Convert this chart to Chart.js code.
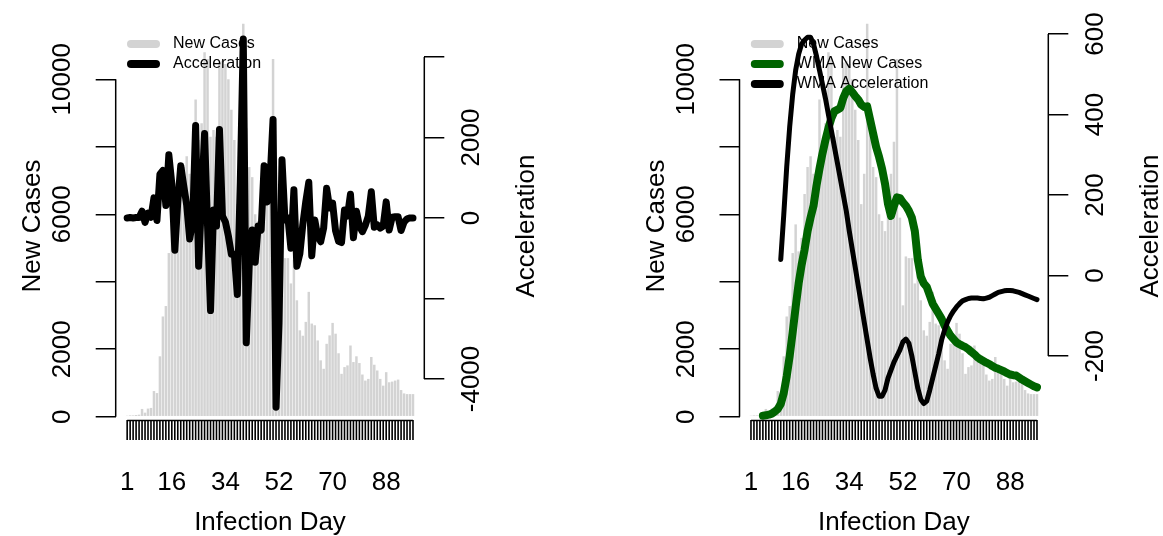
<!DOCTYPE html>
<html>
<head>
<meta charset="utf-8">
<script src="https://cdn.jsdelivr.net/npm/chart.js@4/dist/chart.umd.min.js"></script>
<style>
html,body{margin:0;padding:0;background:#fff;overflow:hidden}
#wrap{position:relative;width:1163px;height:536px;background:#fff}
canvas{position:absolute;top:0}
</style>
</head>
<body>
<div id="wrap">
<canvas id="c1" width="582" height="536" style="left:0px"></canvas>
<canvas id="c2" width="581" height="536" style="left:582px"></canvas>
</div>
<script>
// ---------- data ----------
const days = [1,2,3,4,5,6,7,8,9,10,11,12,13,14,15,16,17,18,19,20,21,22,23,24,25,26,27,28,29,30,
  31,32,33,34,35,36,37,38,39,40,41,42,43,44,45,46,47,48,49,50,51,52,53,54,55,56,57,58,59,60,
  61,62,63,64,65,66,67,68,69,70,71,72,73,74,75,76,77,78,79,80,81,82,83,84,85,86,87,88,89,90,
  91,92,93,94,95,96,97];

const newCases = [30,40,40,50,60,230,120,240,260,760,
  700,1790,2970,3280,4850,5700,4900,5300,6600,7400,
  7720,7200,7100,9400,8200,8700,10800,10600,8300,8500,
  8300,10500,10550,10450,10000,9100,8200,6300,7200,11650,
  8550,7400,7100,6000,5800,5500,6800,7200,8150,10600,
  5900,3300,4750,4700,4700,3950,4650,3450,2560,2400,
  2810,3700,2760,2710,2260,1670,1420,2160,2410,2780,
  2460,1880,1270,1470,1520,2110,1620,1790,1590,1250,
  1070,1120,1770,1540,1370,1120,920,1320,1020,1040,
  1070,1100,790,690,670,670,670];

const acceleration = [0,10,0,10,10,170,-110,120,20,500,
  -60,1090,1180,310,1570,850,-800,400,1300,800,
  320,-520,-100,2300,-1200,500,2100,-200,-2300,200,
  -200,2200,50,-100,-450,-900,-900,-1900,900,4450,
  -3100,-1150,-300,-1100,-200,-300,1300,400,950,2450,
  -4700,-2600,1450,-50,0,-750,700,-1200,-890,-160,
  410,890,-940,-50,-450,-590,-250,740,250,370,
  -320,-580,-610,200,50,590,-490,170,-200,-340,
  -180,50,650,-230,-170,-250,-200,400,-300,20,
  30,30,-310,-100,-20,0,0];

const wmaNewCases = [null,null,null,null,30,40,60,90,150,230,
  380,700,1200,1800,2500,3250,3950,4500,4950,5500,
  5900,6250,6850,7350,7800,8200,8550,8850,9050,9100,
  9150,9450,9650,9720,9620,9500,9400,9250,9180,9200,
  8800,8400,8000,7700,7350,6900,6300,5950,6250,6500,
  6480,6350,6250,6100,5900,5500,4650,4150,3950,3850,
  3600,3350,3200,3050,2900,2700,2550,2400,2300,2200,
  2150,2100,2060,2000,1920,1850,1760,1700,1650,1600,
  1560,1500,1450,1420,1380,1340,1290,1250,1230,1220,
  1160,1100,1050,1000,950,900,870];

const wmaAcceleration = [null,null,null,null,null,null,null,null,null,null,
  40,150,270,370,450,510,550,575,585,592,
  592,575,545,510,475,440,400,360,320,280,
  240,200,160,110,65,20,-25,-70,-115,-160,
  -205,-245,-280,-300,-300,-285,-255,-235,-215,-200,
  -185,-165,-158,-168,-200,-240,-280,-308,-318,-312,
  -285,-255,-225,-195,-160,-135,-115,-100,-88,-78,
  -70,-63,-60,-57,-56,-56,-56,-57,-58,-56,
  -54,-50,-46,-42,-40,-38,-37,-37,-38,-40,
  -42,-45,-48,-51,-54,-57,-60];

const xTickLabels = [1,16,34,52,70,88];
const caseTicks = [0,2000,4000,6000,8000,10000];
const caseTickLabels = [0,2000,6000,10000];
const accTicks = [-4000,-2000,0,2000,4000];
const accTickLabels = [-4000,0,2000];
const wmaAccTicks = [-200,0,200,400,600];
const wmaAccTickLabels = [-200,0,200,400,600];

// ---------- styling ----------
const FONT = '"Liberation Sans", Arial, Helvetica, sans-serif';
const AXIS_LW = 1.5;
const GRAY = '#D3D3D3';
const GREEN = '#006400';

function tickGrid(){
  return {display:true, drawOnChartArea:false, drawTicks:true, tickLength:20,
          color:'#000', lineWidth:AXIS_LW, offset:false};
}

function makeRPlugin(cfg){
  return {
    id:'rstyle',
    afterDatasetDraw(chart, args){
      if (args.index !== 0) return;          // legend drawn right after the bars
      const ctx = chart.ctx, ca = chart.chartArea;
      ctx.save();
      cfg.legend.forEach((it,i)=>{
        const y = 44 + 20*i;
        ctx.strokeStyle = it.color; ctx.lineWidth = 8; ctx.lineCap = 'round';
        ctx.beginPath(); ctx.moveTo(ca.left+15.3, y); ctx.lineTo(ca.left+40.3, y); ctx.stroke();
        ctx.fillStyle = '#000'; ctx.font = '16px ' + FONT;
        ctx.textAlign = 'left'; ctx.textBaseline = 'middle';
        ctx.fillText(it.label, ca.left+57.3, y);
      });
      ctx.restore();
    },
    afterDraw(chart){
      const ctx = chart.ctx, ca = chart.chartArea;
      const xs = chart.scales.x, ys = chart.scales.y, y2 = chart.scales.y2;
      ctx.save();
      ctx.strokeStyle = '#000'; ctx.lineCap = 'butt';
      // x tick marks, one per day, from the x scale
      ctx.lineWidth = 1.6;
      ctx.beginPath();
      xs.ticks.forEach(t => {
        const px = xs.getPixelForValue(t.value);
        ctx.moveTo(px, ca.bottom); ctx.lineTo(px, ca.bottom + 20);
      });
      ctx.stroke();
      // axis lines spanning first..last tick (R style)
      ctx.lineWidth = AXIS_LW;
      ctx.beginPath();
      ctx.moveTo(xs.getPixelForValue(days[0]), ca.bottom + 0.5);
      ctx.lineTo(xs.getPixelForValue(days[days.length-1]), ca.bottom + 0.5);
      ctx.moveTo(ca.left, ys.getPixelForValue(caseTicks[0]));
      ctx.lineTo(ca.left, ys.getPixelForValue(caseTicks[caseTicks.length-1]));
      ctx.moveTo(ca.right, y2.getPixelForValue(cfg.y2Ticks[0]));
      ctx.lineTo(ca.right, y2.getPixelForValue(cfg.y2Ticks[cfg.y2Ticks.length-1]));
      ctx.stroke();
      // tick labels
      ctx.fillStyle = '#000'; ctx.font = '26px ' + FONT;
      ctx.textAlign = 'center'; ctx.textBaseline = 'alphabetic';
      xTickLabels.forEach(v => ctx.fillText(String(v), xs.getPixelForValue(v), 490));
      const rot = (x, y, t) => { ctx.save(); ctx.translate(x, y); ctx.rotate(-Math.PI/2); ctx.fillText(t, 0, 0); ctx.restore(); };
      caseTickLabels.forEach(v => rot(ca.left - 45.7, ys.getPixelForValue(v), String(v)));
      cfg.y2Labels.forEach(v => rot(ca.right + 54.5, y2.getPixelForValue(v), String(v)));
      // axis titles
      const midY = (ca.top + ca.bottom) / 2;
      rot(ca.left - 75.4, midY, 'New Cases');
      rot(ca.right + 110, midY, 'Acceleration');
      ctx.fillText('Infection Day', (ca.left + ca.right) / 2, 530.3);
      ctx.restore();
    }
  };
}

function makePanel(id, W, L, R, datasets, y2min, y2max, y2Ticks, y2Labels, legend){
  const canvas = document.getElementById(id);
  new Chart(canvas, {
    type:'bar',
    data:{ labels: days, datasets },
    options:{
      responsive:false, animation:false, devicePixelRatio:1,
      layout:{ padding:{ top:32, left:0, right:0, bottom:0 } },
      plugins:{ legend:{display:false}, tooltip:{enabled:false} },
      scales:{
        x:{ type:'linear', min:-2.85, max:100.8, offset:false,
            afterBuildTicks: s => { s.ticks = days.map(v => ({value:v})); },
            afterFit: s => { s.height = 116; },
            ticks:{ display:false, autoSkip:false },
            grid:{ display:false }, border:{display:false} },
        y:{ type:'linear', position:'left', min:-98, max:11402,
            afterBuildTicks: s => { s.ticks = caseTicks.map(v => ({value:v})); },
            afterFit: s => { s.width = L; },
            ticks:{ display:false },
            grid: tickGrid(), border:{display:false} },
        y2:{ type:'linear', position:'right', min:y2min, max:y2max,
            afterBuildTicks: s => { s.ticks = y2Ticks.map(v => ({value:v})); },
            afterFit: s => { s.width = W - R; },
            ticks:{ display:false },
            grid: tickGrid(), border:{display:false} }
      }
    },
    plugins:[ makeRPlugin({legend, y2Ticks, y2Labels}) ]
  });
}

const barSet = () => ({ type:'bar', label:'New Cases', data:newCases, backgroundColor:GRAY,
  borderWidth:0, barPercentage:1, categoryPercentage:0.833, yAxisID:'y', order:3, clip:false });

const lineStyle = { type:'line', pointRadius:0, tension:0, fill:false,
  borderCapStyle:'round', borderJoinStyle:'round', clip:false };

// Left panel
makePanel('c1', 582, 115.7, 424.3, [
  barSet(),
  Object.assign({}, lineStyle, { label:'Acceleration', data:acceleration, borderColor:'#000',
    borderWidth:7, yAxisID:'y2', order:1 })
], -5019, 4621, accTicks, accTickLabels, [
  {label:'New Cases', color:GRAY}, {label:'Acceleration', color:'#000'}
]);

// Right panel
makePanel('c2', 581, 157.5, 466.3, [
  barSet(),
  Object.assign({}, lineStyle, { label:'WMA New Cases', data:wmaNewCases, borderColor:GREEN,
    borderWidth:8, yAxisID:'y', order:2 }),
  Object.assign({}, lineStyle, { label:'WMA Acceleration', data:wmaAcceleration, borderColor:'#000',
    borderWidth:5, yAxisID:'y2', order:1 })
], -359, 605, wmaAccTicks, wmaAccTickLabels, [
  {label:'New Cases', color:GRAY}, {label:'WMA New Cases', color:GREEN}, {label:'WMA Acceleration', color:'#000'}
]);
</script>
</body>
</html>
